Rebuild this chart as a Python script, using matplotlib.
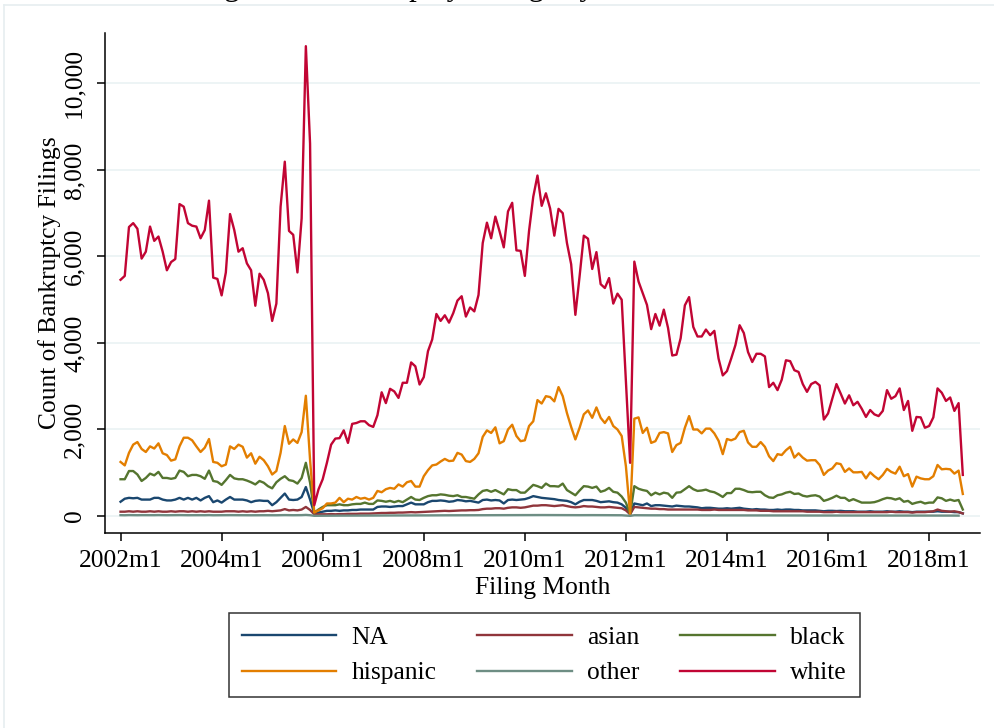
import numpy as np
import matplotlib.pyplot as plt
from matplotlib.lines import Line2D

plt.rcParams['font.family'] = ['Liberation Serif', 'DejaVu Serif']

# monthly filings, 2002m1 .. 2018m9
na_counts = [
    330, 400, 420, 410, 420, 380, 380, 380, 420, 420, 380, 360,
    360, 380, 420, 380, 420, 380, 420, 360, 420, 460, 320, 360,
    310, 380, 440, 380, 380, 380, 360, 320, 350, 360, 350, 350,
    250, 320, 420, 520, 380, 370, 380, 440, 670, 380, 60, 80,
    100, 120, 120, 130, 120, 130, 130, 140, 140, 150, 150, 150,
    150, 210, 220, 220, 210, 220, 230, 230, 270, 310, 270, 270,
    270, 320, 350, 350, 360, 350, 330, 340, 370, 360, 340, 350,
    330, 310, 370, 380, 360, 370, 360, 290, 370, 380, 370, 380,
    390, 420, 460, 440, 420, 410, 400, 390, 370, 360, 350, 320,
    270, 330, 370, 370, 370, 350, 320, 330, 340, 320, 310, 270,
    190, 40, 290, 270, 250, 290, 230, 250, 250, 240, 230, 220,
    240, 230, 220, 220, 210, 200, 180, 190, 190, 180, 170, 170,
    180, 170, 180, 190, 170, 160, 150, 160, 150, 150, 140, 140,
    150, 140, 150, 150, 140, 140, 130, 130, 130, 130, 120, 110,
    120, 120, 115, 120, 110, 110, 110, 100, 100, 100, 110, 100,
    100, 100, 110, 100, 100, 110, 100, 100, 90, 100, 100, 100,
    100, 100, 110, 100, 100, 100, 90, 90, 60,
]
asian_counts = [
    100, 100, 110, 100, 110, 100, 100, 110, 100, 110, 100, 100,
    110, 100, 110, 110, 100, 110, 100, 110, 100, 110, 100, 100,
    100, 110, 110, 110, 100, 110, 100, 110, 100, 110, 110, 120,
    110, 120, 130, 160, 130, 140, 130, 150, 210, 140, 40, 40,
    40, 40, 45, 40, 45, 45, 50, 50, 50, 55, 55, 55,
    60, 65, 70, 70, 75, 75, 80, 80, 85, 90, 85, 90,
    95, 100, 105, 110, 115, 120, 115, 120, 125, 130, 130, 135,
    135, 140, 160, 170, 170, 180, 180, 170, 190, 200, 200, 190,
    200, 220, 240, 240, 250, 250, 240, 230, 240, 250, 230, 210,
    200, 210, 230, 220, 220, 210, 200, 200, 210, 200, 190, 180,
    130, 40, 210, 200, 190, 180, 170, 170, 160, 160, 150, 150,
    150, 150, 150, 150, 150, 150, 140, 140, 140, 150, 140, 140,
    140, 140, 140, 140, 140, 130, 130, 130, 120, 120, 120, 110,
    110, 110, 110, 110, 110, 110, 110, 100, 100, 100, 100, 90,
    90, 90, 100, 90, 90, 90, 90, 90, 90, 90, 90, 90,
    90, 90, 90, 100, 90, 90, 90, 90, 80, 90, 90, 90,
    100, 110, 150, 120, 110, 100, 110, 90, 60,
]
black_counts = [
    850, 850, 1040, 1040, 960, 810, 880, 980, 940, 1020, 880, 880,
    860, 880, 1050, 1020, 920, 950, 950, 920, 860, 1050, 810, 790,
    720, 830, 950, 870, 850, 850, 820, 780, 730, 810, 770, 690,
    640, 780, 860, 920, 830, 810, 750, 880, 1230, 770, 80, 150,
    210, 250, 250, 250, 270, 250, 250, 270, 280, 280, 310, 280,
    280, 360, 350, 330, 350, 320, 350, 320, 380, 440, 380, 370,
    420, 460, 480, 480, 500, 490, 470, 460, 480, 440, 440, 420,
    400, 500, 580, 600, 560, 600, 550, 500, 620, 600, 600, 540,
    540, 630, 720, 690, 650, 750, 690, 690, 680, 750, 600, 540,
    480, 590, 690, 680, 650, 680, 560, 590, 650, 560, 540, 450,
    310, 40, 690, 630, 600, 580, 480, 540, 500, 540, 520, 420,
    540, 550, 620, 690, 620, 580, 590, 610, 570, 550, 500, 440,
    530, 530, 630, 630, 600, 560, 550, 560, 560, 480, 430, 420,
    480, 500, 540, 560, 510, 520, 470, 450, 470, 480, 450, 350,
    380, 420, 470, 420, 420, 350, 390, 350, 310, 310, 310, 320,
    350, 390, 420, 410, 380, 410, 330, 350, 280, 310, 330, 290,
    310, 310, 430, 410, 350, 380, 350, 370, 150,
]
hispanic_counts = [
    1250, 1170, 1460, 1650, 1710, 1550, 1480, 1610, 1560, 1680, 1450, 1410,
    1280, 1310, 1610, 1810, 1810, 1750, 1610, 1480, 1580, 1780, 1250, 1230,
    1150, 1190, 1610, 1550, 1650, 1600, 1350, 1450, 1210, 1370, 1290, 1150,
    960, 1040, 1460, 2080, 1670, 1770, 1690, 1940, 2780, 1300, 80, 130,
    180, 290, 290, 310, 420, 320, 400, 380, 440, 400, 420, 380,
    420, 580, 550, 620, 650, 630, 730, 680, 780, 810, 680, 680,
    920, 1060, 1170, 1190, 1260, 1320, 1270, 1280, 1460, 1420, 1270, 1250,
    1320, 1450, 1830, 1980, 1920, 2050, 1680, 1730, 2000, 2110, 1850, 1730,
    1750, 2080, 2190, 2680, 2600, 2770, 2750, 2650, 2980, 2770, 2380, 2060,
    1770, 2040, 2350, 2440, 2270, 2510, 2270, 2150, 2290, 2080, 2000, 1850,
    1150, 40, 2250, 2280, 1920, 2040, 1690, 1730, 1920, 1940, 1910, 1480,
    1640, 1690, 2040, 2310, 2000, 2000, 1910, 2020, 2020, 1910, 1740, 1430,
    1780, 1750, 1790, 1940, 1970, 1700, 1600, 1600, 1710, 1600, 1380, 1270,
    1430, 1410, 1520, 1600, 1350, 1450, 1350, 1280, 1290, 1290, 1180, 950,
    1050, 1100, 1220, 1200, 1020, 1100, 1010, 1010, 1020, 870, 1010, 920,
    850, 950, 1090, 1020, 980, 1140, 920, 970, 680, 910, 870, 850,
    850, 920, 1180, 1080, 1090, 1080, 980, 1050, 510,
]
other_counts = [
    20, 18, 22, 20, 19, 21, 20, 18, 20, 22, 20, 19,
    20, 21, 22, 20, 19, 20, 21, 20, 19, 22, 18, 19,
    18, 20, 21, 20, 19, 20, 19, 18, 19, 20, 19, 18,
    17, 18, 20, 22, 20, 19, 19, 21, 26, 19, 5, 6,
    7, 8, 8, 9, 9, 9, 10, 10, 10, 11, 11, 11,
    11, 12, 12, 12, 13, 13, 13, 13, 14, 14, 14, 14,
    15, 15, 16, 16, 16, 17, 17, 17, 18, 18, 18, 18,
    18, 18, 19, 20, 20, 20, 20, 19, 21, 21, 21, 20,
    21, 22, 23, 23, 23, 23, 22, 22, 22, 22, 21, 20,
    19, 20, 21, 21, 21, 20, 20, 20, 20, 19, 19, 18,
    12, 4, 19, 18, 18, 18, 17, 17, 17, 17, 16, 16,
    16, 16, 16, 16, 16, 15, 15, 15, 15, 15, 15, 14,
    15, 15, 15, 15, 14, 14, 14, 14, 14, 14, 13, 13,
    13, 13, 13, 13, 13, 13, 12, 12, 12, 12, 12, 11,
    11, 12, 12, 12, 11, 11, 11, 11, 11, 11, 11, 11,
    11, 11, 11, 11, 11, 11, 10, 10, 10, 10, 10, 10,
    10, 10, 11, 10, 10, 10, 10, 9,
]
white_counts = [
    5460, 5550, 6680, 6770, 6640, 5950, 6110, 6690, 6360, 6460, 6110, 5680,
    5870, 5940, 7210, 7150, 6770, 6710, 6690, 6420, 6610, 7290, 5510, 5480,
    5100, 5630, 6980, 6610, 6110, 6190, 5840, 5680, 4860, 5600, 5460, 5150,
    4510, 4910, 7150, 8190, 6590, 6500, 5630, 6880, 10860, 8610, 250, 615,
    850, 1230, 1650, 1790, 1800, 1980, 1690, 2130, 2150, 2190, 2190, 2100,
    2060, 2330, 2860, 2610, 2940, 2880, 2730, 3080, 3080, 3550, 3460, 3040,
    3210, 3810, 4080, 4670, 4510, 4640, 4470, 4690, 4980, 5080, 4610, 4820,
    4730, 5110, 6310, 6780, 6420, 6920, 6580, 6210, 7040, 7240, 6140, 6130,
    5550, 6590, 7380, 7870, 7170, 7460, 7110, 6480, 7100, 7000, 6310, 5820,
    4650, 5540, 6480, 6410, 5710, 6100, 5360, 5270, 5500, 4910, 5140, 5000,
    3100, 1230, 5880, 5420, 5150, 4880, 4320, 4670, 4400, 4770, 4350, 3710,
    3730, 4110, 4870, 5060, 4370, 4150, 4150, 4310, 4180, 4280, 3640, 3250,
    3350, 3640, 3950, 4410, 4230, 3790, 3560, 3750, 3750, 3690, 2980, 3080,
    2910, 3150, 3600, 3580, 3370, 3330, 3050, 2870, 3050, 3100, 3020, 2230,
    2370, 2710, 3050, 2830, 2600, 2790, 2560, 2640, 2480, 2290, 2450, 2350,
    2310, 2430, 2910, 2710, 2770, 2950, 2450, 2660, 1970, 2290, 2280, 2040,
    2080, 2280, 2950, 2850, 2660, 2740, 2430, 2610, 950,
]

race_labels = ['NA', 'asian', 'black', 'hispanic', 'other', 'white']
race_colors = ['#1a476f', '#90353b', '#55752f', '#e37e00', '#6e8e84', '#c10534']
tick_labels = ['2002m1', '2004m1', '2006m1', '2008m1', '2010m1',
               '2012m1', '2014m1', '2016m1', '2018m1']
y_ticks = [0, 2000, 4000, 6000, 8000, 10000]

series = [na_counts, asian_counts, black_counts,
          hispanic_counts, other_counts, white_counts]

fs = 18.4
fig = plt.figure(figsize=(9.95, 7.28), dpi=100)
ax = fig.add_axes([0.1055, 0.268, 0.8795, 0.687])

for vals, lab, col in zip(series, race_labels, race_colors):
    ax.plot(np.arange(len(vals)), vals, color=col, lw=1.7, label=lab,
            solid_joinstyle='round')

ax.set_xlim(-3.7, 204.1)
ax.set_ylim(-390, 11170)
ax.set_xticks(np.arange(len(tick_labels)) * 24)
ax.set_xticklabels(tick_labels)
ax.set_yticks(y_ticks)
ax.set_yticklabels([f'{v:,}' for v in y_ticks], rotation=90, va='center')

ax.grid(axis='y', color='#eaf2f3', lw=1.2)
ax.set_axisbelow(True)
for side in ['top', 'right']:
    ax.spines[side].set_visible(False)
for side in ['left', 'bottom']:
    ax.spines[side].set_linewidth(1.1)
ax.tick_params(axis='both', direction='out', length=6, width=1.1,
               labelsize=fs, colors='black')
ax.tick_params(axis='x', pad=6)
ax.tick_params(axis='y', pad=8)

ax.set_xlabel('Filing Month', fontsize=fs, labelpad=4)
ax.set_ylabel('Count of Bankruptcy Filings', fontsize=fs, labelpad=2)

# legend laid out row by row: NA asian black / hispanic other white
handles, labels = ax.get_legend_handles_labels()
order = [0, 3, 1, 4, 2, 5]
leg = fig.legend([handles[i] for i in order], [labels[i] for i in order],
                 ncol=3, loc='center', bbox_to_anchor=(0.547, 0.1),
                 fontsize=fs, frameon=True, fancybox=False,
                 handlelength=3.7, handletextpad=0.6, columnspacing=1.6,
                 labelspacing=0.5, borderpad=0.5)
leg.get_frame().set_edgecolor('black')
leg.get_frame().set_linewidth(1.1)

# faint outer frame of the graph region
fig.add_artist(Line2D([0.004, 1.0], [0.993, 0.993], color='#e6eef0', lw=1.2,
                      transform=fig.transFigure))
fig.add_artist(Line2D([0.004, 0.004], [0.0, 0.993], color='#e6eef0', lw=1.2,
                      transform=fig.transFigure))

# title sits above the graph region
fig.text(0.13, 1.0075, 'Tracking Total Bankruptcy Filings by Race',
         fontsize=22.3, ha='left', va='baseline')

fig.savefig('out.png', dpi=100)
